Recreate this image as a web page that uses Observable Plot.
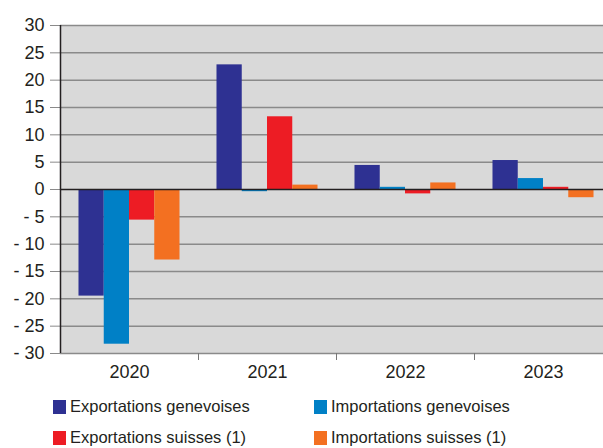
<!DOCTYPE html>
<html>
<head>
<meta charset="utf-8">
<script src="https://cdn.jsdelivr.net/npm/d3@7"></script>
<script src="https://cdn.jsdelivr.net/npm/@observablehq/plot@0.6"></script>
<style>
  html, body { margin: 0; padding: 0; background: #fff; overflow: hidden; }
  #wrap { position: relative; width: 603px; height: 448px; overflow: hidden; font-family: "Liberation Sans", Arial, sans-serif; color: #231f20; }
  #chart svg { max-width: none !important; }
  #legend { position: absolute; left: 0; top: 0; width: 603px; }
  .item { position: absolute; display: flex; align-items: center; font-size: 16.5px; white-space: nowrap; }
  .sw { width: 13px; height: 14px; margin-right: 4px; display: inline-block; }
</style>
</head>
<body>
<div id="wrap"><div id="chart"></div><div id="legend"></div></div>
<script>
const years = [2020, 2021, 2022, 2023];
const seriesNames = ["Exportations genevoises", "Importations genevoises", "Exportations suisses (1)", "Importations suisses (1)"];
const colors = ["#2e3192", "#0080c6", "#ed1c24", "#f37021"];
const exportsGeneva = [-19.5, 22.8, 4.4, 5.3];
const importsGeneva = [-28.3, -0.4, 0.4, 2.0];
const exportsSwiss = [-5.6, 13.3, -0.8, 0.4];
const importsSwiss = [-12.9, 0.8, 1.2, -1.5];
const yTicks = [-30, -25, -20, -15, -10, -5, 0, 5, 10, 15, 20, 25, 30];

const seriesValues = [exportsGeneva, importsGeneva, exportsSwiss, importsSwiss];
const barW = 0.183;
const rows = [];
years.forEach((yr, i) => {
  seriesNames.forEach((s, j) => {
    const x1 = yr - 2 * barW + j * barW;
    rows.push({year: yr, series: s, value: seriesValues[j][i], x1, x2: x1 + barW});
  });
});

const fmt = d => d < 0 ? "- " + (-d) : String(d);

const plot = Plot.plot({
  width: 612,
  height: 385,
  marginTop: 25,
  marginBottom: 32,
  marginLeft: 60,
  marginRight: 0,
  style: {fontFamily: "'Liberation Sans', Arial, sans-serif", fontSize: "18px", color: "#231f20", background: "transparent", maxWidth: "none"},
  x: {domain: [years[0] - 0.5, years[years.length - 1] + 0.5]},
  y: {domain: [-30, 30]},
  color: {domain: seriesNames, range: colors},
  marks: [
    Plot.frame({fill: "#d9d9d9", stroke: null}),
    Plot.ruleY(yTicks.filter(d => d !== 0), {stroke: "#8a8a8a", strokeWidth: 1.5}),
    Plot.axisY({ticks: yTicks, tickFormat: fmt, tickSize: 10, tickPadding: 6, stroke: "#8a8a8a", label: null, fontSize: "18px"}),
    Plot.axisX({ticks: years.map(y => y + 0.5), tickSize: 7, tickFormat: () => "", stroke: "#777", label: null}),
    Plot.axisX({ticks: years, tickSize: 0, tickPadding: 12, tickFormat: d => String(d), label: null, fontSize: "18px"}),
    Plot.rectY(rows, {x1: "x1", x2: "x2", y: "value", fill: "series"}),
    Plot.ruleY([0], {stroke: "#231f20", strokeWidth: 1.5}),
    Plot.ruleX([years[0] - 0.5], {stroke: "#231f20", strokeWidth: 1.5})
  ]
});
document.getElementById("chart").appendChild(plot);

const legendPos = [[53, 400], [314, 400], [53, 431], [314, 431]];
const legend = document.getElementById("legend");
seriesNames.forEach((s, j) => {
  const it = document.createElement("div");
  it.className = "item";
  it.style.left = legendPos[j][0] + "px";
  it.style.top = (legendPos[j][1] - 3) + "px";
  it.innerHTML = `<span class="sw" style="background:${colors[j]}"></span><span>${s}</span>`;
  legend.appendChild(it);
});
</script>
</body>
</html>
